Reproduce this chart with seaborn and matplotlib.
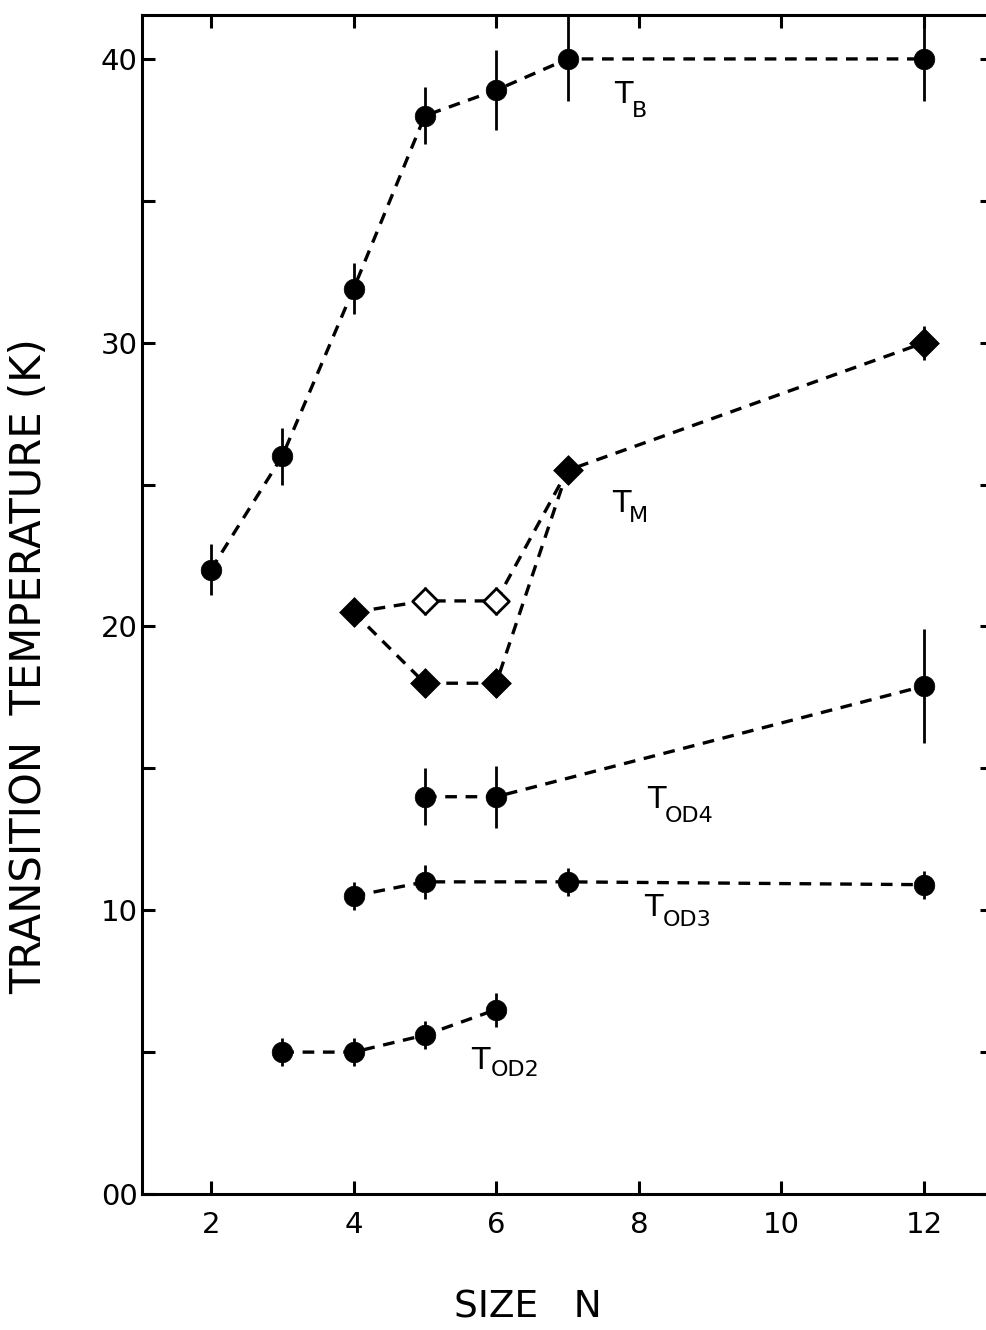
import numpy as np
import pandas as pd
import matplotlib
matplotlib.use("Agg")
import matplotlib.pyplot as plt
from matplotlib.ticker import FixedLocator, MultipleLocator
import seaborn as sns

# ---- data -------------------------------------------------------------
tb_n = [2, 3, 4, 5, 6, 7, 12]
tb_t = [22.0, 26.0, 31.9, 38.0, 38.9, 40.0, 40.0]
tb_err = [0.9, 1.0, 0.9, 1.0, 1.4, 1.5, 1.5]

tm_n = [4, 5, 6, 7, 12]
tm_t = [20.5, 18.0, 18.0, 25.5, 30.0]
tm_err = [0.5, 0.5, 0.5, 0.4, 0.6]

tm_open_n = [5, 6]
tm_open_t = [20.9, 20.9]
tm_open_err = [0.5, 0.5]

tod4_n = [5, 6, 12]
tod4_t = [14.0, 14.0, 17.9]
tod4_err = [1.0, 1.1, 2.0]

tod3_n = [4, 5, 7, 12]
tod3_t = [10.5, 11.0, 11.0, 10.9]
tod3_err = [0.5, 0.6, 0.5, 0.5]

tod2_n = [3, 4, 5, 6]
tod2_t = [5.0, 5.0, 5.6, 6.5]
tod2_err = [0.5, 0.5, 0.5, 0.6]

x_ticks = [2, 4, 6, 8, 10, 12]
x_ticklabels = ["2", "4", "6", "8", "10", "12"]
y_ticks = [0, 10, 20, 30, 40]
y_ticklabels = ["00", "10", "20", "30", "40"]

# ---- style ------------------------------------------------------------
sns.set_style("ticks")
plt.rcParams["font.family"] = ["DejaVu Sans"]
plt.rcParams.update({"text.color": "black", "axes.labelcolor": "black",
                     "xtick.color": "black", "ytick.color": "black"})

fig = plt.figure(figsize=(9.87, 13.3), dpi=100)
# the right-hand frame sits just past the figure edge
ax = fig.add_axes([0.1439, 0.10226, 0.8622, 0.8865])

DASH = (0, (3.5, 2.6))
LW = 2.4
K = "black"


def dashed(n, t):
    df = pd.DataFrame({"N": n, "T": t})
    sns.lineplot(data=df, x="N", y="T", ax=ax, color=K, lw=LW,
                 linestyle=DASH, sort=False, zorder=2)


def points(n, t, err, marker, size, filled=True):
    df = pd.DataFrame({"N": n, "T": t})
    ax.errorbar(n, t, yerr=err, fmt="none", ecolor=K, elinewidth=2.0,
                capsize=0, zorder=3)
    sns.scatterplot(data=df, x="N", y="T", ax=ax, marker=marker, s=size,
                    color=K if filled else "white", edgecolor=K,
                    linewidth=2.0 if not filled else 0.5, zorder=4)


# T_B
dashed(tb_n, tb_t)
points(tb_n, tb_t, tb_err, "o", 220)

# T_M : filled branch and open branch sharing N=4 and N=7
dashed(tm_n, tm_t)
dashed([tm_n[0]] + tm_open_n + [tm_n[3]],
       [tm_t[0]] + tm_open_t + [tm_t[3]])
points(tm_n, tm_t, tm_err, "D", 230)
points(tm_open_n, tm_open_t, tm_open_err, "D", 170, filled=False)

# T_OD4, T_OD3, T_OD2
dashed(tod4_n, tod4_t)
points(tod4_n, tod4_t, tod4_err, "o", 220)
dashed(tod3_n, tod3_t)
points(tod3_n, tod3_t, tod3_err, "o", 220)
dashed(tod2_n, tod2_t)
points(tod2_n, tod2_t, tod2_err, "o", 220)

# ---- curve labels -----------------------------------------------------
def curve_label(x, y, sub, dx, dy):
    ax.text(x, y, "T", fontsize=22, ha="left", va="baseline", zorder=5)
    ax.annotate(sub, xy=(x, y), xytext=(dx, dy), textcoords="offset points",
                fontsize=16, ha="left", va="baseline", zorder=5)


curve_label(7.66, 38.45, "B", 12.5, -10)
curve_label(7.63, 24.04, "M", 12.0, -7)
curve_label(8.11, 13.60, "OD4", 13.0, -10)
curve_label(8.08, 9.80, "OD3", 13.0, -7)
curve_label(5.65, 4.40, "OD2", 14.0, -5)

# ---- axes -------------------------------------------------------------
ax.set_xlim(1.0336, 12.966)
ax.set_ylim(0, 41.55)
ax.xaxis.set_major_locator(FixedLocator(x_ticks))
ax.set_xticklabels(x_ticklabels)
ax.yaxis.set_major_locator(FixedLocator(y_ticks))
ax.set_yticklabels(y_ticklabels)
ax.yaxis.set_minor_locator(MultipleLocator(5))

ax.tick_params(axis="both", which="both", direction="in", length=9.5,
               width=2.2, top=True, right=True, labelsize=21, color=K,
               labelcolor=K)
ax.tick_params(axis="x", which="major", pad=12)
ax.tick_params(axis="y", which="major", pad=3)

for sp in ax.spines.values():
    sp.set_linewidth(2.2)
    sp.set_color(K)
    sp.set_visible(True)

ax.set_xlabel("")
ax.set_ylabel("")
fig.text(0.535, 1 - 1308 / 1330, "SIZE   N", fontsize=27,
         ha="center", va="center", color=K)
fig.text(29 / 987, 1 - 666 / 1330, "TRANSITION  TEMPERATURE (K)",
         fontsize=30, rotation=90, ha="center", va="center", color=K)

fig.savefig("out.png", dpi=100, facecolor="white")
